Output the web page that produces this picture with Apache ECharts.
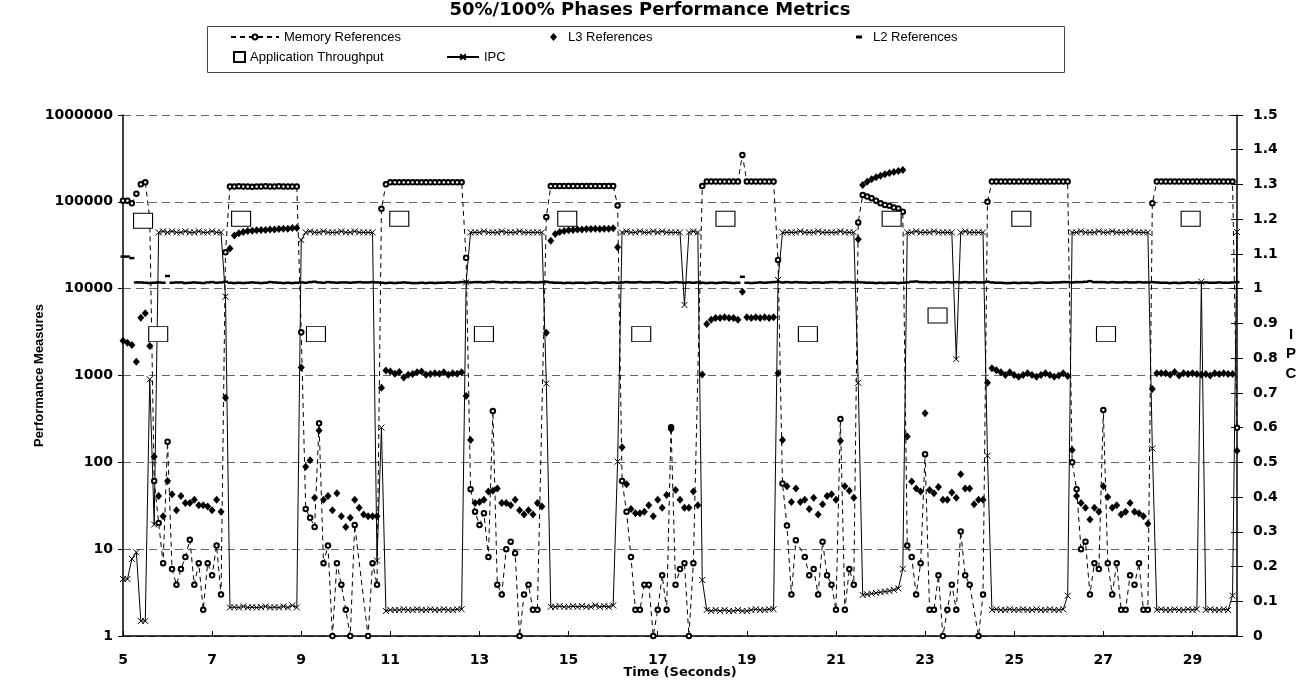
<!DOCTYPE html>
<html>
<head>
<meta charset="utf-8">
<title>50%/100% Phases Performance Metrics</title>
<script src="https://cdn.jsdelivr.net/npm/echarts@6/dist/echarts.min.js"></script>
<style>
  html, body { margin: 0; padding: 0; background: #fff; }
  #chart { width: 1314px; height: 698px; }
</style>
</head>
<body>
<div id="chart"></div>
<script>
  // one sample every 0.1 s, from 5.0 s to 30.0 s
  var startTime = 5;
  var step = 0.1;
  var xTicks = [5, 7, 9, 11, 13, 15, 17, 19, 21, 23, 25, 27, 29];

  var memRefs = [
    103000, 103000, 96000, 124000, 159000, 168000, 64500, 61, 20, 6.9,            // 5.0
    173, 5.9, 3.9, 5.9, 8.1, 12.8, 3.9, 6.9, 2, 6.9,                              // 6.0
    5, 11, 3, 26200, 150000, 150000, 151000, 150000, 150000, 149000,              // 7.0
    150000, 150000, 151000, 150000, 150000, 151000, 150000, 150000, 150000, 150000, // 8.0
    3140, 29, 23, 18, 281, 6.9, 11, 1, 6.9, 3.9,                                  // 9.0
    2, 1, 19, null, null, 1, 6.9, 3.9, 83000, 159000,                             // 10.0
    168000, 168000, 168000, 168000, 168000, 168000, 168000, 168000, 168000, 168000, // 11.0
    168000, 168000, 168000, 168000, 168000, 168000, 168000, 22700, 49, 27,        // 12.0
    19, 26, 8.1, 390, 3.9, 3, 10, 12.2, 9, 1,                                     // 13.0
    3, 3.9, 2, 2, null, 67000, 152000, 152000, 152000, 152000,                    // 14.0
    152000, 152000, 152000, 152000, 152000, 152000, 152000, 152000, 152000, 152000, // 15.0
    152000, 91000, 61, 27, 8.1, 2, 2, 3.9, 3.9, 1,                                // 16.0
    2, 5, 2, 253, 3.9, 5.9, 6.9, 1, 6.9, null,                                    // 17.0
    152000, 171000, 171000, 171000, 171000, 171000, 171000, 171000, 171000, 347000, // 18.0
    171000, 171000, 171000, 171000, 171000, 171000, 171000, 21400, 57, 18.7,      // 19.0
    3, 12.7, null, 8.1, 5, 5.9, 3, 12.2, 5, 3.9,                                  // 20.0
    2, 316, 2, 5.9, 3.9, 58000, 120000, 115000, 110000, 103000,                   // 21.0
    96000, 92000, 90000, 86000, 84000, 77000, 11, 8.1, 3, 6.9,                    // 22.0
    124, 2, 2, 5, 1, 2, 3.9, 2, 16, 5,                                            // 23.0
    3.9, null, 1, 3, 100000, 171000, 171000, 171000, 171000, 171000,              // 24.0
    171000, 171000, 171000, 171000, 171000, 171000, 171000, 171000, 171000, 171000, // 25.0
    171000, 171000, 171000, 100, 49, 10, 12.2, 3, 6.9, 5.9,                       // 26.0
    401, 6.9, 3, 6.9, 2, 2, 5, 3.9, 6.9, 2,                                       // 27.0
    2, 96000, 171000, 171000, 171000, 171000, 171000, 171000, 171000, 171000,     // 28.0
    171000, 171000, 171000, 171000, 171000, 171000, 171000, 171000, 171000, 171000, // 29.0
    250                                                                           // 30.0
  ];

  var l3Refs = [
    2520, 2390, 2250, 1440, 4630, 5200, 2190, 116, 41, 24,                        // 5.0
    61, 43, 28, 41, 34, 34, 37, 32, 32, 31,                                       // 6.0
    28, 37, 27, 556, 29000, 41000, 43500, 45000, 46000, 46500,                    // 7.0
    47000, 47500, 47500, 48000, 48000, 48500, 49000, 49000, 50000, 50000,         // 8.0
    1240, 89, 106, 39, 232, 37, 41, 28, 44, 24,                                   // 9.0
    18, 23, 37, 30, 25, 24, 24, 24, 724, 1140,                                    // 10.0
    1110, 1050, 1100, 950, 1020, 1040, 1090, 1110, 1020, 1040,                    // 11.0
    1060, 1050, 1090, 1020, 1060, 1050, 1090, 580, 181, 34,                       // 12.0
    35, 37, 46, 47, 50, 34, 34, 32, 37, 28,                                       // 13.0
    25, 28, 25, 34, 31, 3100, 35700, 42600, 45000, 46000,                         // 14.0
    47000, 47500, 48000, 48000, 48500, 48500, 49000, 48500, 49000, 49000,         // 15.0
    49500, 29900, 149, 56, 29, 26, 26, 27, 32, 24,                                // 16.0
    37, 30, 42, 240, 48, 37, 30, 30, 46, 32,                                      // 17.0
    1030, 3920, 4400, 4600, 4600, 4700, 4600, 4600, 4400, 9240,                   // 18.0
    4700, 4600, 4700, 4600, 4700, 4600, 4700, 1060, 181, 53,                      // 19.0
    35, 50, 35, 37, 29, 39, 25, 33, 41, 43,                                       // 20.0
    37, 177, 53, 47, 39, 37000, 156000, 170000, 182000, 192000,                   // 21.0
    200000, 208000, 215000, 221000, 227000, 233000, 198, 60, 50, 46,              // 22.0
    367, 48, 44, 52, 37, 37, 45, 39, 73, 50,                                      // 23.0
    50, 33, 37, 37, 827, 1210, 1150, 1090, 1010, 1090,                            // 24.0
    1010, 970, 1010, 1060, 1010, 970, 1010, 1060, 1010, 970,                      // 25.0
    1000, 1060, 990, 139, 41, 34, 30, 22, 30, 27,                                 // 26.0
    53, 40, 30, 32, 25, 27, 34, 27, 26, 24,                                       // 27.0
    19.6, 700, 1060, 1060, 1060, 1020, 1100, 1000, 1060, 1040,                    // 28.0
    1060, 1040, 1020, 1040, 1000, 1060, 1040, 1060, 1040, 1040,                   // 29.0
    136                                                                           // 30.0
  ];

  var l2Refs = [
    23400, 23400, 22500, 11800, 11800, 11700, 11600, 11700, 11800, 11700,         // 5.0
    14000, 11700, 11800, 11800, 11600, 11700, 11800, 11700, 11600, 11800,         // 6.0
    11900, 11700, 11800, 12000, 11700, 11600, 11700, 11600, 11700, 11800,         // 7.0
    11700, 11600, 11700, 11900, 11800, 11700, 11600, 11700, 11600, 11700,         // 8.0
    11800, 11700, 11900, 12000, 11800, 11700, 11900, 11800, 11700, 11800,         // 9.0
    11800, 11700, 11800, 11900, 11800, 11800, 11900, 11800, 11700, 11600,         // 10.0
    11700, 11600, 11700, 11800, 11700, 11600, 11600, 11700, 11600, 11700,         // 11.0
    11600, 11700, 11700, 11800, 11700, 11800, 11900, 12000, 11800, 11900,         // 12.0
    11900, 11800, 11900, 12000, 11900, 11800, 11900, 11800, 11900, 11800,         // 13.0
    11800, 11900, 11800, 11800, 11900, 12000, 11800, 11700, 11700, 11600,         // 14.0
    11700, 11600, 11700, 11700, 11600, 11700, 11800, 11700, 11600, 11700,         // 15.0
    11800, 11700, 11800, 11900, 11800, 11800, 11900, 11800, 11800, 11900,         // 16.0
    11900, 11800, 11700, 11800, 11900, 11800, 11700, 11800, 11700, 11800,         // 17.0
    11700, 11600, 11700, 11600, 11700, 11800, 11700, 11600, 11700, 13700,         // 18.0
    11700, 11600, 11700, 11800, 11700, 11800, 11900, 12000, 11800, 11900,         // 19.0
    11800, 11900, 11800, 11800, 11700, 11800, 11800, 11700, 11800, 11900,         // 20.0
    11900, 11800, 11900, 11900, 11800, 11900, 11800, 11700, 11700, 11600,         // 21.0
    11700, 11600, 11700, 11700, 11600, 11700, 11800, 12000, 12100, 11900,         // 22.0
    11900, 11800, 11900, 11800, 11800, 11900, 11800, 11900, 11800, 11900,         // 23.0
    11800, 11900, 11800, 11800, 12000, 11800, 11700, 11700, 11600, 11600,         // 24.0
    11700, 11600, 11700, 11700, 11600, 11700, 11800, 11700, 11700, 11800,         // 25.0
    11800, 11900, 11900, 11800, 11900, 11900, 12000, 12200, 11900, 11900,         // 26.0
    11900, 11800, 11900, 11800, 11800, 11900, 11800, 11800, 11900, 11800,         // 27.0
    11800, 11900, 11800, 11700, 11700, 11600, 11700, 11600, 11700, 11800,         // 28.0
    11700, 11800, 11700, 11800, 11700, 11700, 11800, 11700, 11700, 11800,         // 29.0
    11900                                                                         // 30.0
  ];

  var ipc = [
    0.164, 0.164, 0.222, 0.241, 0.043, 0.043, 0.739, 0.321, 1.162, 1.165,         // 5.0
    1.162, 1.165, 1.162, 1.162, 1.165, 1.162, 1.162, 1.165, 1.162, 1.162,         // 6.0
    1.165, 1.162, 1.162, 0.977, 0.082, 0.083, 0.082, 0.085, 0.082, 0.083,         // 7.0
    0.082, 0.083, 0.085, 0.082, 0.083, 0.082, 0.085, 0.082, 0.088, 0.082,         // 8.0
    1.14, 1.162, 1.165, 1.162, 1.162, 1.165, 1.162, 1.162, 1.162, 1.165,          // 9.0
    1.162, 1.162, 1.165, 1.162, 1.162, 1.162, 1.162, 0.217, 0.6, 0.072,           // 10.0
    0.075, 0.075, 0.075, 0.077, 0.075, 0.075, 0.077, 0.075, 0.075, 0.077,         // 11.0
    0.075, 0.075, 0.077, 0.075, 0.075, 0.077, 0.077, 1.018, 1.162, 1.162,         // 12.0
    1.162, 1.165, 1.162, 1.162, 1.162, 1.165, 1.162, 1.162, 1.162, 1.165,         // 13.0
    1.162, 1.162, 1.162, 1.162, 1.162, 0.727, 0.084, 0.084, 0.086, 0.084,         // 14.0
    0.084, 0.086, 0.084, 0.086, 0.084, 0.084, 0.088, 0.084, 0.086, 0.084,         // 15.0
    0.088, 0.502, 1.162, 1.165, 1.162, 1.162, 1.165, 1.162, 1.162, 1.165,         // 16.0
    1.162, 1.165, 1.162, 1.162, 1.162, 1.162, 0.953, 1.162, 1.165, 1.162,         // 17.0
    0.161, 0.075, 0.072, 0.075, 0.072, 0.075, 0.072, 0.072, 0.075, 0.072,         // 18.0
    0.072, 0.075, 0.077, 0.075, 0.075, 0.077, 0.077, 1.025, 1.162, 1.162,         // 19.0
    1.162, 1.162, 1.165, 1.162, 1.162, 1.162, 1.165, 1.162, 1.162, 1.162,         // 20.0
    1.162, 1.165, 1.162, 1.162, 1.162, 0.729, 0.118, 0.12, 0.122, 0.124,          // 21.0
    0.126, 0.128, 0.13, 0.133, 0.137, 0.193, 1.162, 1.162, 1.165, 1.162,          // 22.0
    1.162, 1.162, 1.165, 1.162, 1.162, 1.162, 1.162, 0.797, 1.162, 1.165,         // 23.0
    1.162, 1.162, 1.162, 1.162, 0.519, 0.075, 0.077, 0.075, 0.075, 0.077,         // 24.0
    0.075, 0.075, 0.077, 0.075, 0.075, 0.077, 0.075, 0.075, 0.077, 0.075,         // 25.0
    0.075, 0.077, 0.116, 1.162, 1.162, 1.165, 1.162, 1.162, 1.162, 1.165,         // 26.0
    1.162, 1.162, 1.165, 1.162, 1.162, 1.162, 1.165, 1.162, 1.162, 1.162,         // 27.0
    1.162, 0.54, 0.075, 0.077, 0.075, 0.075, 0.077, 0.075, 0.075, 0.077,          // 28.0
    0.075, 0.077, 1.02, 0.075, 0.077, 0.075, 0.075, 0.077, 0.075, 0.116,          // 29.0
    1.163                                                                         // 30.0
  ];

  // application throughput is reported at its own times
  var thrTimes = [5.45, 5.79, 7.65, 9.33, 11.2, 13.1, 14.97, 16.63, 18.52, 20.37, 22.25, 23.28, 25.16, 27.06, 28.96];
  var thrValues = [60500, 3000, 63800, 3000, 63800, 3000, 63800, 3000, 63800, 3000, 63800, 4900, 63800, 3000, 63800];

  function withTime(values) {
    return values.map(function (v, i) {
      return [+(startTime + i * step).toFixed(1), v];
    });
  }

  var thrData = thrTimes.map(function (t, i) { return [t, thrValues[i]]; });

  var labelFont = { fontFamily: 'DejaVu Sans', fontWeight: 'bold', fontSize: 14, color: '#000' };
  var legendText = { fontFamily: 'Liberation Sans', fontSize: 13, color: '#000', lineHeight: 14 };
  var xMark = 'path://M0,0L10,10M10,0L0,10';

  var chart = echarts.init(document.getElementById('chart'));
  var option = {
    animation: false,
    backgroundColor: '#fff',
    title: {
      text: '50%/100% Phases Performance Metrics',
      left: 650,
      top: 1,
      padding: 0,
      textAlign: 'center',
      textStyle: { fontFamily: 'DejaVu Sans', fontWeight: 'bold', fontSize: 18, color: '#000' }
    },
    legend: [
      { data: ['Memory References'], left: 230, top: 30, padding: 0, itemWidth: 48, itemHeight: 6, selectedMode: false, textStyle: legendText },
      { data: ['L3 References'], left: 550, top: 30, padding: 0, itemWidth: 7, itemHeight: 8, selectedMode: false, textStyle: Object.assign({ padding: [0, 0, 0, 6] }, legendText) },
      { data: ['L2 References'], left: 856, top: 30, padding: 0, itemWidth: 6, itemHeight: 3, selectedMode: false, textStyle: Object.assign({ padding: [0, 0, 0, 6] }, legendText) },
      { data: ['Application Throughput'], left: 233, top: 50, padding: 0, itemWidth: 11, itemHeight: 10, selectedMode: false, textStyle: legendText },
      { data: ['IPC'], left: 446, top: 50, padding: 0, itemWidth: 32, itemHeight: 7, selectedMode: false, textStyle: legendText }
    ],
    graphic: [
      {
        type: 'rect', silent: true, z: -1,
        shape: { x: 207.5, y: 26.5, width: 857, height: 46 },
        style: { fill: 'none', stroke: '#444', lineWidth: 1 }
      },
      {
        type: 'text', silent: true, x: 1291, y: 325,
        style: { text: 'I\nP\nC', fill: '#000', font: 'bold 15px "Liberation Sans"', align: 'center', lineHeight: 19.5 }
      }
    ],
    grid: { left: 123, right: 77, top: 115, bottom: 62 },
    xAxis: {
      type: 'value',
      min: 5,
      max: 30,
      interval: 2,
      name: 'Time (Seconds)',
      nameLocation: 'middle',
      nameGap: 30,
      nameMoveOverlap: false,
      nameTextStyle: { fontFamily: 'DejaVu Sans', fontWeight: 'bold', fontSize: 13, color: '#000' },
      axisLine: { lineStyle: { color: '#000', width: 1.5 } },
      axisTick: { inside: true, length: 5, customValues: xTicks, lineStyle: { color: '#000' } },
      axisLabel: Object.assign({ margin: 17, customValues: xTicks }, labelFont),
      splitLine: { show: false }
    },
    yAxis: [
      {
        type: 'log',
        logBase: 10,
        min: 1,
        max: 1000000,
        splitNumber: 6,
        name: 'Performance Measures',
        nameLocation: 'middle',
        nameGap: 77,
        nameMoveOverlap: false,
        nameTextStyle: { fontFamily: 'Liberation Sans', fontWeight: 'bold', fontSize: 13, color: '#000' },
        axisLine: { show: true, lineStyle: { color: '#000', width: 1.5 } },
        axisTick: { show: true, length: 5, lineStyle: { color: '#000' } },
        axisLabel: Object.assign({ margin: 10, formatter: function (v) { return String(Math.round(v)); } }, labelFont),
        splitLine: { show: true, lineStyle: { color: '#666', width: 1, type: [8, 5] } }
      },
      {
        type: 'value',
        position: 'right',
        min: 0,
        max: 1.5,
        interval: 0.1,
        axisLine: { show: true, lineStyle: { color: '#000', width: 1.5 } },
        axisTick: { show: true, length: 6, lineStyle: { color: '#000' } },
        axisLabel: Object.assign({ margin: 16 }, labelFont),
        splitLine: { show: false }
      },
      {
        // second copy of the IPC scale, for the inner half of the crossing ticks
        type: 'value',
        position: 'right',
        min: 0,
        max: 1.5,
        interval: 0.1,
        axisLine: { show: false },
        axisTick: { show: true, inside: true, length: 6, lineStyle: { color: '#000' } },
        axisLabel: { show: false },
        splitLine: { show: false }
      }
    ],
    series: [
      {
        name: 'Memory References',
        type: 'line',
        data: withTime(memRefs),
        connectNulls: true,
        symbol: 'emptyCircle',
        symbolSize: 4.5,
        showAllSymbol: true,
        lineStyle: { color: '#000', width: 1, type: [5, 4] },
        itemStyle: { color: '#000', borderColor: '#000', borderWidth: 1 },
        z: 2
      },
      {
        name: 'L3 References',
        type: 'scatter',
        data: withTime(l3Refs),
        symbol: 'diamond',
        symbolSize: [7, 8],
        itemStyle: { color: '#000', opacity: 1 },
        z: 3
      },
      {
        name: 'L2 References',
        type: 'scatter',
        data: withTime(l2Refs),
        symbol: 'rect',
        symbolSize: [5, 2.5],
        itemStyle: { color: '#000', opacity: 1 },
        z: 3
      },
      {
        name: 'Application Throughput',
        type: 'scatter',
        data: thrData,
        symbol: 'rect',
        symbolSize: [19, 15],
        itemStyle: { color: '#fff', borderColor: '#000', borderWidth: 1, opacity: 1 },
        z: 4
      },
      {
        name: 'IPC',
        type: 'line',
        yAxisIndex: 1,
        data: withTime(ipc),
        symbol: xMark,
        symbolSize: 6,
        showAllSymbol: true,
        lineStyle: { color: '#000', width: 1 },
        itemStyle: { color: '#000', borderColor: '#000', borderWidth: 1 },
        z: 2
      }
    ]
  };
  chart.setOption(option);
</script>
</body>
</html>
